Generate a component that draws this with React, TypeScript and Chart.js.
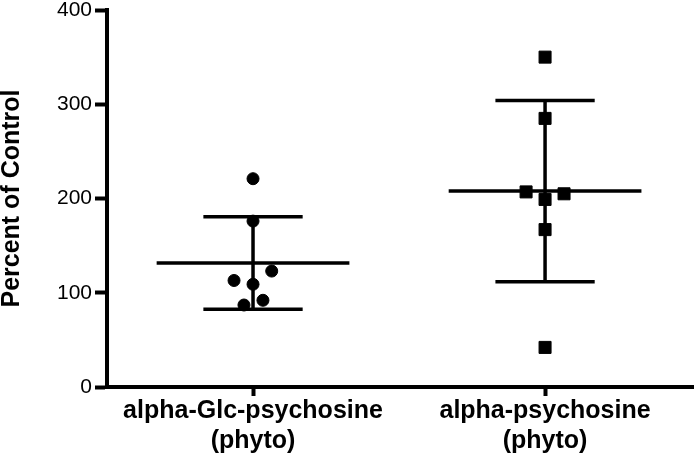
import React, { useEffect, useRef } from 'react';
import { Chart, registerables } from 'chart.js';

Chart.register(...registerables);

const categories: string[][] = [
  ['alpha-Glc-psychosine', '(phyto)'],
  ['alpha-psychosine', '(phyto)'],
];
const glcValues = [221, 176, 123, 113, 109, 92, 87];
const glcJitter = [0, 0, 0.064, -0.065, 0, 0.034, -0.031];
const psyValues = [350, 285, 207, 205, 199, 167, 42];
const psyJitter = [0, 0, -0.065, 0.065, 0, 0, 0];
const yTicks = [0, 100, 200, 300, 400];
const yTitle = 'Percent of Control';

const FONT = "'Liberation Sans', Arial, Helvetica, sans-serif";

const meanSdPlugin = {
  id: 'meanSd',
  beforeDatasetsDraw(chart: any) {
    const { ctx, scales } = chart;
    const x = scales.x;
    const y = scales.y;
    ctx.save();
    ctx.strokeStyle = '#000';
    ctx.lineWidth = 3.5;
    ctx.lineCap = 'butt';
    const seg = (x1: number, y1: number, x2: number, y2: number) => {
      ctx.beginPath();
      ctx.moveTo(x1, y1);
      ctx.lineTo(x2, y2);
      ctx.stroke();
    };
    chart.data.datasets.forEach((ds: any, i: number) => {
      const vals: number[] = ds.data.map((p: any) => p.y);
      const n = vals.length;
      const mean = vals.reduce((a, b) => a + b, 0) / n;
      const sd = Math.sqrt(vals.reduce((a, b) => a + (b - mean) ** 2, 0) / (n - 1));
      const cx = i + 1;
      const ym = y.getPixelForValue(mean);
      const yu = y.getPixelForValue(mean + sd);
      const yl = y.getPixelForValue(mean - sd);
      seg(x.getPixelForValue(cx - 0.33), ym, x.getPixelForValue(cx + 0.33), ym);
      seg(x.getPixelForValue(cx - 0.17), yu, x.getPixelForValue(cx + 0.17), yu);
      seg(x.getPixelForValue(cx - 0.17), yl, x.getPixelForValue(cx + 0.17), yl);
      const xc = x.getPixelForValue(cx);
      seg(xc, yu, xc, yl);
    });
    ctx.restore();
  },
};

export default function App() {
  const ref = useRef<HTMLCanvasElement | null>(null);
  useEffect(() => {
    document.body.style.margin = '0';
    if (!ref.current) return;
    const chart = new Chart(ref.current, {
      type: 'scatter',
      data: {
        datasets: [
          {
            label: 'glc',
            data: glcValues.map((v, i) => ({ x: 1 + glcJitter[i], y: v })),
            pointStyle: 'circle',
            pointRadius: 6,
            pointBorderWidth: 1,
            backgroundColor: '#000',
            borderColor: '#000',
          },
          {
            label: 'psy',
            data: psyValues.map((v, i) => ({ x: 2 + psyJitter[i], y: v })),
            pointStyle: 'rect',
            pointRadius: 8.5,
            pointBorderWidth: 1,
            backgroundColor: '#000',
            borderColor: '#000',
          },
        ],
      },
      options: {
        responsive: false,
        animation: false,
        devicePixelRatio: 1,
        layout: { autoPadding: false, padding: { top: 10, right: 0, left: 0, bottom: 0 } },
        plugins: {
          legend: { display: false },
          tooltip: { enabled: false },
        },
        scales: {
          x: {
            type: 'linear',
            min: 0.5,
            max: 2.51,
            afterBuildTicks: (scale: any) => {
              scale.ticks = categories.map((_, i) => ({ value: i + 1 }));
            },
            afterFit: (scale: any) => {
              scale.height = 76;
              scale.paddingLeft = 0;
              scale.paddingRight = 0;
            },
            border: { display: true, color: '#000', width: 4 },
            grid: {
              drawOnChartArea: false,
              drawTicks: true,
              tickLength: 9,
              tickWidth: 4,
              tickColor: '#000',
            },
            ticks: {
              color: '#000',
              padding: 0,
              maxRotation: 0,
              autoSkip: false,
              font: { family: FONT, size: 25, weight: 'bold', lineHeight: 1.2 },
              callback: (value: any) => categories[Math.round(value) - 1] ?? '',
            },
          },
          y: {
            type: 'linear',
            min: 0,
            max: 400,
            afterBuildTicks: (scale: any) => {
              scale.ticks = yTicks.map((v) => ({ value: v }));
            },
            afterFit: (scale: any) => {
              scale.width = 107;
              scale.paddingTop = 0;
              scale.paddingBottom = 0;
            },
            border: { display: true, color: '#000', width: 4 },
            grid: {
              drawOnChartArea: false,
              drawTicks: true,
              tickLength: 12,
              tickWidth: 4,
              tickColor: '#000',
            },
            ticks: {
              color: '#000',
              padding: 3,
              font: { family: FONT, size: 21, weight: 'normal' },
            },
            title: {
              display: true,
              text: yTitle,
              color: '#000',
              padding: 0,
              font: { family: FONT, size: 25, weight: 'bold', lineHeight: 1 },
            },
          },
        },
      },
      plugins: [meanSdPlugin],
    });
    return () => chart.destroy();
  }, []);
  return (
    <div style={{ width: 694, height: 463 }}>
      <canvas ref={ref} width={694} height={463} style={{ display: 'block' }} />
    </div>
  );
}
